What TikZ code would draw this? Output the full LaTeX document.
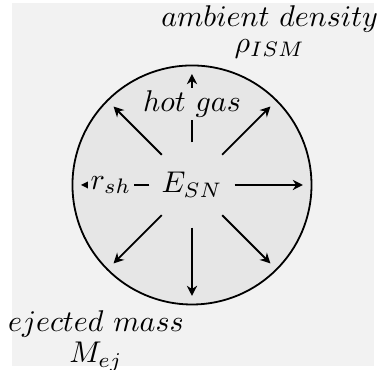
\documentclass[tikz,border=0pt]{standalone}
\usepackage{xcolor}
\usepackage{tikz}
\usetikzlibrary{positioning, arrows.meta}
\definecolor{paper}{HTML}{F2F2F2}
\definecolor{shell}{HTML}{E6E6E6}

\begin{document}
\begin{tikzpicture}[
  bubble/.style={
    circle, draw=black, semithick, fill=shell,
    minimum size=2.8cm, inner sep=0pt, outer sep=0pt
  },
  core/.style={circle, minimum size=1cm, inner sep=0pt, outer sep=0pt},
  tag/.style={fill=shell, inner sep=1pt},
  ray/.style={-{Stealth[length=3.4pt, width=3.4pt]}, semithick, shorten >=0.1cm}
]
  \useasboundingbox (-2.249,-2.156) rectangle (2.179,2.167);
  \fill[paper] (-2.109,-2.120) rectangle (2.132,2.132);

  \node[bubble] (rim) at (0,0) {};
  \node[core] (esn) at (0,0) {$E_{SN}$};

  \draw[ray] (esn.0) -- (rim.0);
  \draw[ray] (esn.45) -- (rim.45);
  \draw[ray] (esn.90) -- node[tag] (hot) {$hot\ gas$} (rim.90);
  \draw[ray] (esn.135) -- (rim.135);
  \draw[ray] (esn.180) -- node[tag] (rsh) {$r_{sh}$} (rim.180);
  \draw[ray] (esn.225) -- (rim.225);
  \draw[ray] (esn.270) -- (rim.270);
  \draw[ray] (esn.315) -- (rim.315);

  \node[align=center, inner sep=0pt] (rho) at (0.91,1.79) {$ambient\ density$\\[-3.5pt]$\rho_{ISM}$};
  \node[align=center, inner sep=0pt] (mej) at (-1.125,-1.83) {$ejected\ mass$\\[-1.7pt]$M_{ej}$};
\end{tikzpicture}
\end{document}
